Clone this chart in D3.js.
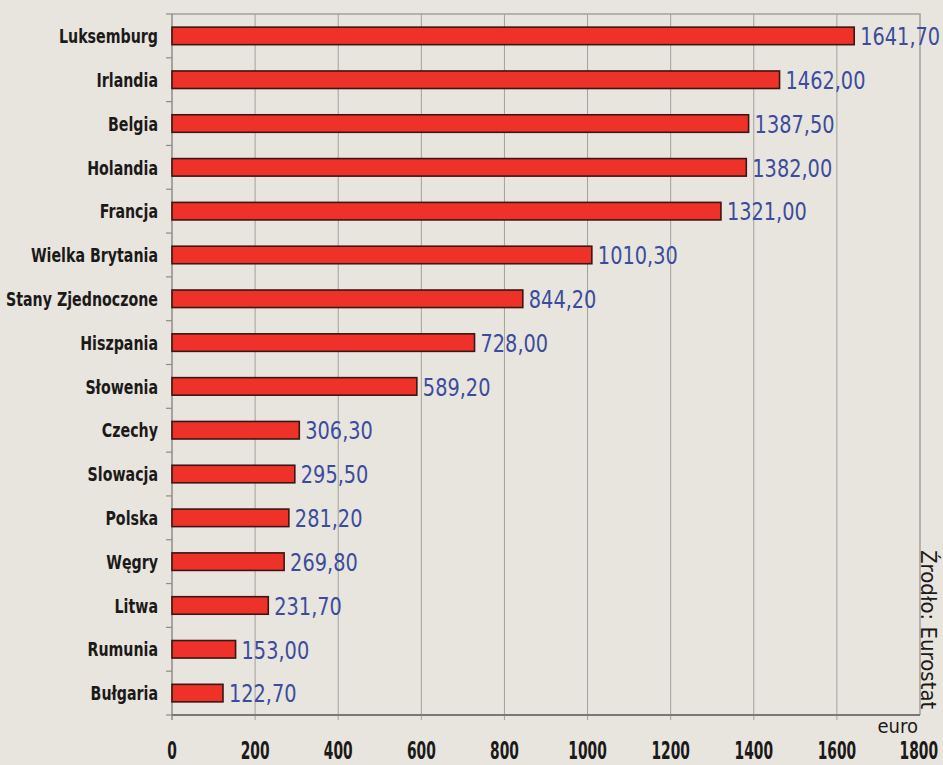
<!DOCTYPE html>
<html>
<head>
<meta charset="utf-8">
<script src="https://cdn.jsdelivr.net/npm/d3@7"></script>
<style>
  body { margin: 0; background: #e8e5df; }
  svg { display: block; }
</style>
</head>
<body>
<script>
    //Width and height
    var w = 943;
    var h = 765;

    //Data
    var countries = ["Luksemburg", "Irlandia", "Belgia", "Holandia", "Francja", "Wielka Brytania",
                     "Stany Zjednoczone", "Hiszpania", "Słowenia", "Czechy", "Slowacja", "Polska",
                     "Węgry", "Litwa", "Rumunia", "Bułgaria"];
    var values = [1641.70, 1462.00, 1387.50, 1382.00, 1321.00, 1010.30,
                  844.20, 728.00, 589.20, 306.30, 295.50, 281.20,
                  269.80, 231.70, 153.00, 122.70];
    var xTicks = [0, 200, 400, 600, 800, 1000, 1200, 1400, 1600, 1800];

    var dataset = countries.map(function(c, i) { return { name: c, value: values[i] }; });

    var plotL = 172, plotR = 920, plotT = 14, plotB = 715;
    var font = "'DejaVu Sans Condensed', 'DejaVu Sans', sans-serif";

    //Create SVG element
    var svg = d3.select("body")
                .append("svg")
                .attr("width", w)
                .attr("height", h);

    var x = d3.scaleLinear().domain([0, 1800]).range([plotL, plotR]);
    var y = d3.scaleBand().domain(countries).range([plotT, plotB])
              .paddingInner(0.6).paddingOuter(0.3);

    //grid lines
    svg.selectAll("line.grid")
       .data(xTicks.slice(1, -1))
       .enter()
       .append("line")
       .attr("class", "grid")
       .attr("x1", function(d) { return x(d); })
       .attr("x2", function(d) { return x(d); })
       .attr("y1", plotT)
       .attr("y2", plotB + 5)
       .attr("stroke", "#a3a19c")
       .attr("stroke-width", 1);

    //frame: top and right
    svg.append("path")
       .attr("d", "M" + plotL + "," + plotT + "H" + plotR + "V" + plotB)
       .attr("fill", "none")
       .attr("stroke", "#a3a19c")
       .attr("stroke-width", 1.5);

    //left axis line + ticks at band edges
    svg.append("line")
       .attr("x1", plotL).attr("x2", plotL)
       .attr("y1", plotT).attr("y2", plotB + 5)
       .attr("stroke", "#8e8c88")
       .attr("stroke-width", 1.5);

    var edges = countries.map(function(c) { return y(c) - y.step() * y.paddingInner() / 2; });
    edges.push(plotB);
    svg.selectAll("line.ytick")
       .data(edges)
       .enter()
       .append("line")
       .attr("class", "ytick")
       .attr("x1", plotL - 6).attr("x2", plotL)
       .attr("y1", function(d) { return d; })
       .attr("y2", function(d) { return d; })
       .attr("stroke", "#8e8c88")
       .attr("stroke-width", 1.2);

    //bottom axis line
    svg.append("line")
       .attr("x1", plotL).attr("x2", plotR)
       .attr("y1", plotB).attr("y2", plotB)
       .attr("stroke", "#7a7874")
       .attr("stroke-width", 2);

    //bars
    svg.selectAll("rect.bar")
       .data(dataset)
       .enter()
       .append("rect")
       .attr("class", "bar")
       .attr("x", x(0))
       .attr("y", function(d) { return y(d.name); })
       .attr("width", function(d) { return x(d.value) - x(0); })
       .attr("height", y.bandwidth())
       .attr("fill", "#ee3229")
       .attr("stroke", "#3a1614")
       .attr("stroke-width", 1.6);

    //category labels (squeezed to look like a condensed face)
    svg.selectAll("text.cat")
       .data(dataset)
       .enter()
       .append("text")
       .attr("class", "cat")
       .attr("transform", function(d) {
           return "translate(158," + (y(d.name) + y.bandwidth() / 2) + ") scale(0.79,1)";
       })
       .attr("dy", "0.36em")
       .attr("text-anchor", "end")
       .attr("font-family", font)
       .attr("font-weight", "bold")
       .attr("font-size", 20)
       .attr("fill", "#1c1a18")
       .text(function(d) { return d.name; });

    //value labels
    var fmt = d3.format(".2f");
    svg.selectAll("text.val")
       .data(dataset)
       .enter()
       .append("text")
       .attr("class", "val")
       .attr("transform", function(d) {
           return "translate(" + (x(d.value) + 6) + "," + (y(d.name) + y.bandwidth() / 2) + ") scale(0.86,1)";
       })
       .attr("dy", "0.37em")
       .attr("font-family", font)
       .attr("font-size", 25)
       .attr("fill", "#3b4c9c")
       .text(function(d) { return fmt(d.value).replace(".", ","); });

    //x tick labels
    svg.selectAll("text.xt")
       .data(xTicks)
       .enter()
       .append("text")
       .attr("class", "xt")
       .attr("transform", function(d) {
           var px = d === 1800 ? x(d) + 18 : x(d);
           return "translate(" + px + ",759) scale(0.64,1)";
       })
       .attr("text-anchor", function(d) { return d === 1800 ? "end" : "middle"; })
       .attr("font-family", font)
       .attr("font-weight", "bold")
       .attr("font-size", 24)
       .attr("fill", "#1c1a18")
       .text(function(d) { return d; });

    //unit
    svg.append("text")
       .attr("x", plotR - 2)
       .attr("y", 733)
       .attr("text-anchor", "end")
       .attr("font-family", font)
       .attr("font-size", 20)
       .attr("fill", "#1c1a18")
       .text("euro");

    //source, rotated
    svg.append("text")
       .attr("transform", "translate(921,550) rotate(90)")
       .attr("font-family", font)
       .attr("font-size", 22)
       .attr("fill", "#1c1a18")
       .text("Źrodło: Eurostat");
</script>
</body>
</html>
